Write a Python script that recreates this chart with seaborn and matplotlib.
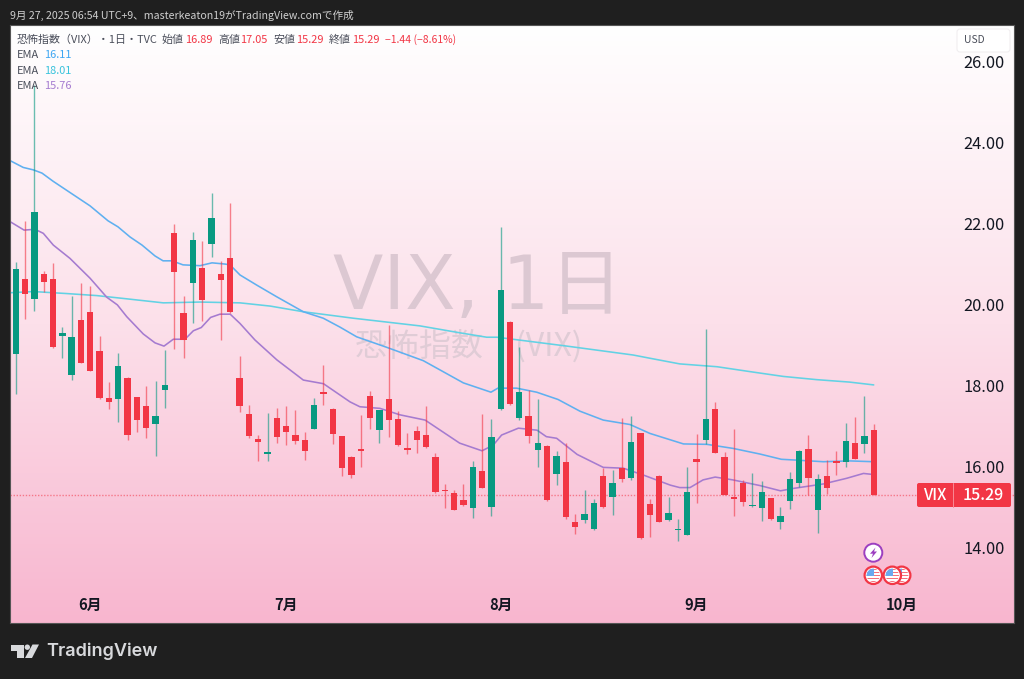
import numpy as np
import pandas as pd
import matplotlib
matplotlib.use("Agg")
import matplotlib.pyplot as plt
import seaborn as sns
from matplotlib.colors import LinearSegmentedColormap
from matplotlib.patches import Circle, FancyBboxPatch, Polygon, Rectangle

# ---------- data ----------
opens = [18.77,20.62,20.14,20.75,20.64,19.21,18.26,19.62,19.82,18.84,17.69,17.67,18.17,17.70,17.50,17.04,17.88,21.76,19.78,20.52,
         20.90,21.50,20.75,21.16,18.19,17.28,16.67,16.31,17.20,16.99,16.76,16.65,16.93,17.83,17.41,16.75,16.23,16.42,17.74,16.89,
         17.66,17.16,16.44,16.87,16.76,16.23,15.41,15.34,15.16,14.96,15.87,15.00,17.41,19.57,17.20,17.23,16.41,16.51,15.81,16.10,
         14.63,14.68,14.44,15.75,15.23,15.95,15.71,16.81,15.06,15.76,14.67,14.41,14.30,16.18,16.64,17.41,16.23,15.24,15.59,15.01,
         14.97,15.21,14.62,15.14,15.59,16.43,14.92,15.76,16.14,16.10,16.57,16.55,16.89]
closes = [20.87,20.27,22.28,20.55,18.94,19.29,19.19,18.56,18.36,17.69,17.59,18.48,16.77,17.15,16.95,17.25,18.01,20.81,19.13,21.60,
          20.12,22.15,20.61,19.81,17.50,16.75,16.61,16.35,16.73,16.85,16.62,16.37,17.51,17.79,16.80,15.95,15.77,16.38,17.20,17.39,
          17.15,16.52,16.40,16.65,16.48,15.36,15.39,14.92,15.04,15.98,15.47,16.72,20.36,17.53,17.84,16.75,16.57,15.16,16.25,14.74,
          14.49,14.82,15.10,14.98,15.58,15.69,16.59,14.22,14.79,14.62,14.84,14.45,15.37,16.11,17.16,16.33,15.29,15.19,15.11,15.05,
          15.35,14.70,14.77,15.69,16.38,15.70,15.69,15.47,16.08,16.63,16.18,16.74,15.29]
highs = [21.06,22.07,25.43,20.84,21.02,19.44,20.20,20.54,20.46,19.22,18.08,18.81,18.20,17.72,17.99,18.10,18.87,21.99,20.22,21.79,
         21.58,22.76,21.07,22.52,18.73,17.52,16.77,17.31,17.43,17.49,17.38,16.84,17.69,18.50,17.45,16.75,16.25,17.26,17.86,17.40,
         19.49,17.37,16.81,16.99,17.49,16.32,15.55,15.41,15.55,16.14,17.28,17.17,21.91,19.58,18.95,17.88,17.65,16.53,16.37,16.57,
         14.82,15.40,15.18,15.96,15.90,17.20,17.25,16.82,15.20,15.77,15.24,14.69,15.98,16.80,19.39,17.58,16.36,16.93,15.66,15.84,
         15.63,15.22,14.99,15.86,16.39,16.76,15.80,16.15,16.37,17.07,17.21,17.74,17.05]
lows = [17.79,19.65,19.85,20.31,18.92,18.68,18.12,18.55,18.35,17.66,17.42,17.10,16.65,16.84,16.70,16.24,17.45,18.89,18.68,19.55,
        19.59,21.18,19.12,19.80,17.35,16.70,16.14,16.14,16.57,16.53,16.56,16.15,16.92,17.52,16.55,15.76,15.71,15.99,16.93,16.57,
        16.72,16.50,16.30,16.32,16.45,15.34,14.97,14.91,15.01,14.72,15.46,14.76,17.40,17.51,17.13,16.57,15.99,15.15,15.53,14.69,
        14.33,14.60,14.43,14.97,14.78,15.60,15.67,14.21,14.25,14.61,14.65,14.15,14.29,15.10,16.55,16.32,15.28,14.77,15.02,15.00,
        14.65,14.67,14.44,14.94,15.49,15.29,14.35,15.30,15.78,15.97,16.17,16.33,15.29]

ema_blue_i = [-0.61,0.81,1.89,2.82,4.0,5.82,7.97,9.9,10.97,12.26,13.54,14.94,15.8,16.76,17.94,19.76,21.05,22.44,22.98,24.05,25.84,27.99,
              30.84,32.98,34.77,36.56,39.78,43.7,45.5,48.0,50.96,51.7,53.7,55.86,58.15,60.5,63.0,65.87,68.0,71.6,74.1,76.9,79.8,82.1,83.7,86.6,89.4,92]
ema_blue_v = [23.56,23.39,23.33,23.25,23.05,22.77,22.44,22.07,21.92,21.67,21.47,21.20,21.08,21.08,20.98,20.96,21.03,21.00,20.98,20.73,20.48,20.19,
              19.82,19.66,19.44,19.20,18.94,18.61,18.38,18.06,17.83,17.93,17.93,17.83,17.65,17.36,17.14,17.03,16.81,16.55,16.54,16.44,16.30,16.17,16.15,16.11,16.13,16.11]
ema_cyan_i = [-0.61,1.89,5.47,8.69,11.9,15.83,19.76,24.05,27.3,30.84,36.2,43.35,47.6,50.5,51.6,59.1,66.2,68,71.2,75.2,78.7,82.3,85.9,89.4,92]
ema_cyan_v = [20.29,20.32,20.27,20.22,20.14,20.04,20.06,20.04,19.96,19.82,19.66,19.47,19.30,19.19,19.19,18.97,18.75,18.67,18.53,18.46,18.34,18.22,18.14,18.08,18.01]
ema_purple_i = [-0.61,0.9,2.07,2.96,4.03,5.82,7.97,9.76,10.9,11.9,13.68,14.94,15.9,16.9,18.15,19.05,19.9,20.9,21.9,23.0,24.05,25.66,28,30.84,33,35.85,36.9,39.06,41.2,
                43.9,47.6,50,51.2,52.1,53.9,55.9,56.9,58,60.2,63,65.15,67.3,70.2,71.2,72.3,73.7,75,76.9,79.8,82,83.4,86.6,89.1,90.9,91.7,92]
ema_purple_v = [22.05,21.84,21.86,21.76,21.47,21.14,20.65,20.18,19.99,19.70,19.27,19.05,18.97,19.14,19.14,19.35,19.43,19.68,19.76,19.76,19.53,19.12,18.63,18.13,18.04,17.59,17.47,17.43,17.27,
                17.14,16.57,16.38,16.52,16.77,16.94,16.89,16.73,16.69,16.29,15.97,15.95,15.78,15.53,15.47,15.47,15.66,15.73,15.66,15.52,15.39,15.45,15.56,15.70,15.82,15.80,15.76]

price_ticks = [14, 16, 18, 20, 22, 24, 26]
month_ticks = [8, 29, 52, 73, 95]
month_labels = ["6月", "7月", "8月", "9月", "10月"]
last_price = 15.29

# ---------- style ----------
UP, DOWN = "#089981", "#f23645"
BLUE, CYAN, PURPLE = "#5fb0f0", "#62d2e4", "#a57bd0"
DARK = "#1f1f1f"
sns.set_theme(style="white")
plt.rcParams["font.family"] = ["Noto Sans CJK JP", "DejaVu Sans"]

fig = plt.figure(figsize=(10.24, 6.79), dpi=100, facecolor=DARK)
W, H = 1024.0, 679.0
def rect(x0, y0, x1, y1):
    return [x0 / W, 1 - y1 / H, (x1 - x0) / W, (y1 - y0) / H]

# background panel in pixel coordinates
bg = fig.add_axes(rect(10, 25, 1014, 623), zorder=0)
bg.set_xlim(10, 1014); bg.set_ylim(623, 25); bg.axis("off")
cmap = LinearSegmentedColormap.from_list("p", ["#ffffff", "#fce0ea", "#f8b6cf"])
bg.imshow(np.linspace(0, 1, 256)[:, None], cmap=cmap, extent=[10, 1014, 623, 25], aspect="auto", zorder=0)
bg.text(478, 288, "VIX, 1日", fontsize=53, color="#dcc8d2", ha="center", va="center",
        family=["DejaVu Sans", "Noto Sans CJK JP"])
bg.text(355, 346, "恐怖指数　(VIX)", fontsize=23, color="#e0ccd6", ha="left", va="center")

# main chart
ax = fig.add_axes(rect(10, 25, 1014, 623), zorder=1)
ax.patch.set_alpha(0)
idx = np.arange(len(opens))
o, c, hi, lo = map(np.array, (opens, closes, highs, lows))
colors = [UP if b > a else DOWN for a, b in zip(o, c)]

for name, xs, ys, col in [("EMA 1", ema_cyan_i, ema_cyan_v, CYAN),
                          ("EMA 2", ema_blue_i, ema_blue_v, BLUE),
                          ("EMA 3", ema_purple_i, ema_purple_v, PURPLE)]:
    sns.lineplot(data=pd.DataFrame({"i": xs, "v": ys}), x="i", y="v", color=col, lw=1.15, ax=ax,
                 estimator=None, sort=False, zorder=2)
ax.vlines(idx, lo, hi, colors=colors, lw=1.0, alpha=0.6, zorder=3)
ax.bar(idx, np.abs(c - o), bottom=np.minimum(o, c), width=0.68, color=colors, lw=0, zorder=4)
ax.axhline(last_price, color=DOWN, lw=1.0, ls=(0, (1, 1.2)), alpha=0.55, zorder=1)

ax.set_xlim(-0.611, 107.04)
ax.set_ylim(12.12, 26.914)
ax.set_xlabel(""); ax.set_ylabel("")
ax.grid(False)
ax.set_xticks(month_ticks, month_labels)
ax.set_yticks(price_ticks, [f"{v:.2f}" for v in price_ticks])
ax.yaxis.tick_right()
ax.tick_params(axis="y", length=0, pad=-36.7, labelsize=11.8, labelcolor="#131722")
ax.tick_params(axis="x", length=0, pad=-19, labelsize=10.6, labelcolor="#131722")
for t in ax.get_xticklabels():
    t.set_fontweight("bold")
for s in ax.spines.values():
    s.set_color("#555555"); s.set_linewidth(0.8)

# overlay in pixel coordinates
ov = fig.add_axes([0, 0, 1, 1], zorder=2)
ov.set_xlim(0, W); ov.set_ylim(H, 0); ov.axis("off"); ov.patch.set_alpha(0)
def txt(x, y, s, col="#4a4e5a", fs=7.9, **kw):
    ov.text(x, y + 0.8, s, color=col, fontsize=fs, va="center", **kw)

txt(10, 14.2, "9月 27, 2025 06:54 UTC+9、masterkeaton19がTradingView.comで作成", "#cfcfcf", 7.65)
txt(17, 39, "恐怖指数（VIX）・1日・TVC")
for x, s, col, fs in [(162, "始値", None, 7.9), (185, "16.89", DOWN, 7.9), (218, "高値", None, 7.9), (240, "17.05", DOWN, 7.9),
                      (273, "安値", None, 7.9), (296, "15.29", DOWN, 7.9), (329, "終値", None, 7.9), (352, "15.29", DOWN, 7.9),
                      (385, "−1.44 (−8.61%)", DOWN, 7.5)]:
    txt(x, 39, s, col or "#4a4e5a", fs)
for y, v, col in [(54.5, "16.11", "#3ea6f2"), (70, "18.01", "#38c3dc"), (85.2, "15.76", "#a57bd0")]:
    txt(17, y, "EMA"); txt(44, y, v, col)

# USD box
ov.add_patch(FancyBboxPatch((957, 29), 53, 23, boxstyle="round,pad=0,rounding_size=3", fc="#ffffff", ec="#f1eef0", lw=0.8))
txt(964, 39.5, "USD", "#4a4e5a", 7.4)

# last-price label
ov.add_patch(FancyBboxPatch((917, 483), 94, 24, boxstyle="round,pad=0,rounding_size=2", fc=DOWN, ec="none"))
ov.plot([952.5, 952.5], [483, 507], color="#f98a95", lw=0.7)
txt(934.5, 494.5, "VIX", "white", 11.2, ha="center", fontweight="medium")
txt(983, 494.5, "15.29", "white", 11.6, ha="center", fontweight="medium")

# event icons
def flag(cx, cy, z):
    ci = Circle((cx, cy), 8.7, fc="white", ec=DOWN, lw=1.6, zorder=z)
    ov.add_patch(ci)
    clip = Circle((cx, cy), 6.7, transform=ov.transData)
    for k in range(5):
        r = Rectangle((cx - 8, cy - 6.5 + k * 3), 16, 1.6, fc="#f5707c", ec="none", zorder=z)
        ov.add_patch(r); r.set_clip_path(clip)
    r = Rectangle((cx - 8, cy - 8), 8.5, 8.5, fc="#6aa9ee", ec="none", zorder=z)
    ov.add_patch(r); r.set_clip_path(clip)
ov.add_patch(Circle((873.3, 552.7), 9, fc="white", ec="#9c3fc0", lw=1.4))
ov.add_patch(Polygon([[875.5, 547.5], [870, 553.7], [873, 553.7], [871.5, 558], [877, 551.5], [874, 551.5]], fc="#9c3fc0", ec="none"))
flag(901.7, 575.3, 3); flag(892.3, 575.3, 4); flag(873.3, 575.3, 5)

# footer
FOOT = "#d8d9dc"
ov.add_patch(Polygon([[11, 644.5], [24, 644.5], [24, 658], [17, 658], [17, 650.5], [11, 650.5]], fc=FOOT, ec="none"))
ov.add_patch(Circle((27.3, 647.2), 2.7, fc=FOOT, ec="none"))
ov.add_patch(Polygon([[32.5, 644.5], [39, 644.5], [32, 658], [25, 658]], fc=FOOT, ec="none"))
ov.text(46, 651.5, "TradingView", color=FOOT, fontsize=13, family=["Inter", "DejaVu Sans"], fontweight="semibold", va="center")

fig.savefig("out.png", dpi=100, facecolor=DARK)
